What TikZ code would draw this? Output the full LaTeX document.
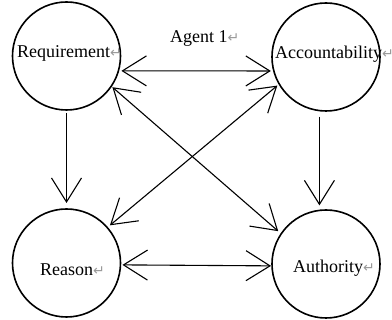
\documentclass[tikz,border=0pt]{standalone}
\usepackage{fontspec}
\setmainfont{Liberation Serif}
\newfontfamily\symfont{DejaVu Sans}
\usetikzlibrary{arrows.meta}
\newcommand\retmark{{\symfont\fontsize{14}{14}\selectfont\color{gray!80}↵}}
\begin{document}
\begin{tikzpicture}[x=1pt,y=1pt,
  concept/.style={circle,draw,line width=1.6pt,minimum size=108pt,inner sep=0pt,outer sep=0pt},
  lbl/.style={anchor=base west,inner sep=0pt,font=\fontsize{18}{18}\selectfont},
  barb/.tip={Straight Barb[length=24pt,width=30pt]},
  link/.style={line width=1.1pt,barb-barb},
  flow/.style={line width=1.1pt,-barb}]
\useasboundingbox (0,0) rectangle (392,320);
% the four concepts
\node[concept] (req) at (66.5,264) {};
\node[concept] (acc) at (326,263) {};
\node[concept] (rea) at (66.5,57) {};
\node[concept] (aut) at (326,56) {};
% their names
\node[lbl] (req-t) at (17,262) {Requirement\retmark};
\node[lbl] (acc-t) at (275,261) {Accountability\retmark};
\node[lbl] (rea-t) at (40,44) {Reason\retmark};
\node[lbl] (aut-t) at (293,47) {Authority\retmark};
\node[lbl] (agent) at (170,277) {Agent 1\retmark};
% relations
\draw[link,shorten <=3pt,shorten >=3pt] (req.-16) -- (acc.195);
\draw[link,shorten <=2pt,shorten >=1pt] (rea.-2) -- (aut.182);
\draw[flow,shorten <=3pt,shorten >=6pt] (req.south) -- (rea.north);
\draw[flow,shorten <=6pt,shorten >=5pt] (acc.263) -- (aut.97);
\draw[link,shorten <=1.5pt,shorten >=4pt] (req.-34) -- (aut.146);
\draw[link,shorten <=2.5pt,shorten >=3.5pt] (acc.-150) -- (rea.41.5);
\end{tikzpicture}
\end{document}
